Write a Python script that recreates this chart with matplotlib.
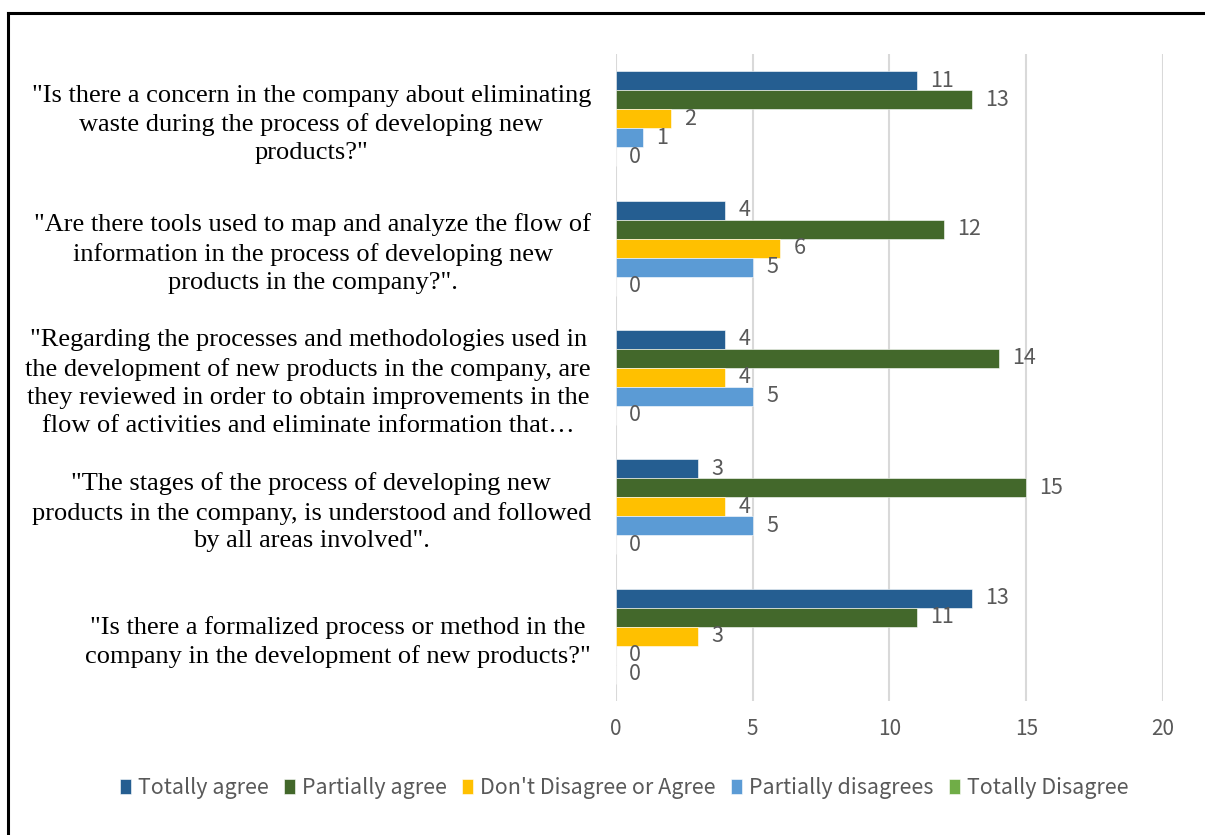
import matplotlib
matplotlib.use("Agg")
import matplotlib.pyplot as plt
from matplotlib.lines import Line2D
import numpy as np

questions = [
    '"Is there a concern in the company about eliminating\nwaste during the process of developing new\nproducts?"',
    '"Are there tools used to map and analyze the flow of\ninformation in the process of developing new\nproducts in the company?".',
    '"Regarding the processes and methodologies used in\nthe development of new products in the company, are\nthey reviewed in order to obtain improvements in the\nflow of activities and eliminate information that\u2026',
    '"The stages of the process of developing new\nproducts in the company, is understood and followed\nby all areas involved".',
    '"Is there a formalized process or method in the\ncompany in the development of new products?"',
]
series_names = ["Totally agree", "Partially agree", "Don't Disagree or Agree",
                "Partially disagrees", "Totally Disagree"]
totally_agree = [11, 4, 4, 3, 13]
partially_agree = [13, 12, 14, 15, 11]
neutral = [2, 6, 4, 4, 3]
partially_disagrees = [1, 5, 5, 5, 0]
totally_disagree = [0, 0, 0, 0, 0]
series_values = [totally_agree, partially_agree, neutral,
                 partially_disagrees, totally_disagree]
colors = ["#255E91", "#43682B", "#FFC000", "#5B9BD5", "#70AD47"]
x_ticks = [0, 5, 10, 15, 20]

label_font = ["Noto Sans CJK SC", "DejaVu Sans"]
text_gray = "#595959"

fig = plt.figure(figsize=(12.05, 8.35), dpi=100)
ax = fig.add_axes([0.5112, 0.1605, 0.4539, 0.7749])

n_cat = len(questions)
bar_h = 0.1467
y = np.arange(n_cat)
for j, (name, vals, c) in enumerate(zip(series_names, series_values, colors)):
    pos = y + (j - 2) * bar_h
    ax.barh(pos, vals, height=bar_h, color=c, label=name,
            edgecolor="white", linewidth=0.4, zorder=3)
    for p, v in zip(pos, vals):
        ax.annotate(str(v), xy=(v, p), xytext=(9.5, 0), textcoords="offset points",
                    ha="left", va="center", fontsize=15.5, color=text_gray,
                    family=label_font, zorder=4)

ax.set_xlim(0, 20)
ax.set_ylim(n_cat - 0.5, -0.5)
ax.set_xticks(x_ticks)
ax.set_xticklabels([str(t) for t in x_ticks], fontsize=15, color=text_gray,
                   family=label_font)
ax.set_yticks(y)
ax.set_yticklabels(questions, fontsize=19, family="Liberation Serif",
                   color="black", multialignment="center", linespacing=1.35)
ax.tick_params(axis="both", length=0)
ax.tick_params(axis="x", pad=12)
ax.tick_params(axis="y", pad=18)
ax.grid(axis="x", color="#D9D9D9", linewidth=1.5, zorder=0)
ax.set_axisbelow(True)
for s in ax.spines.values():
    s.set_visible(False)

leg = fig.legend(loc="center", bbox_to_anchor=(0.518, 0.0563), ncol=5,
                 frameon=False, handlelength=0.5, handleheight=0.75,
                 handletextpad=0.35, columnspacing=0.7,
                 prop={"family": label_font, "size": 15.5})
for t in leg.get_texts():
    t.set_color(text_gray)

# outer frame along the left and top edges
fig.add_artist(Line2D([0.0068, 0.0068], [-0.1, 0.9844], color="black",
                      linewidth=2.2, transform=fig.transFigure))
fig.add_artist(Line2D([0.0068, 1.1], [0.9844, 0.9844], color="black",
                      linewidth=2.2, transform=fig.transFigure))

fig.savefig("out.png", dpi=100)
